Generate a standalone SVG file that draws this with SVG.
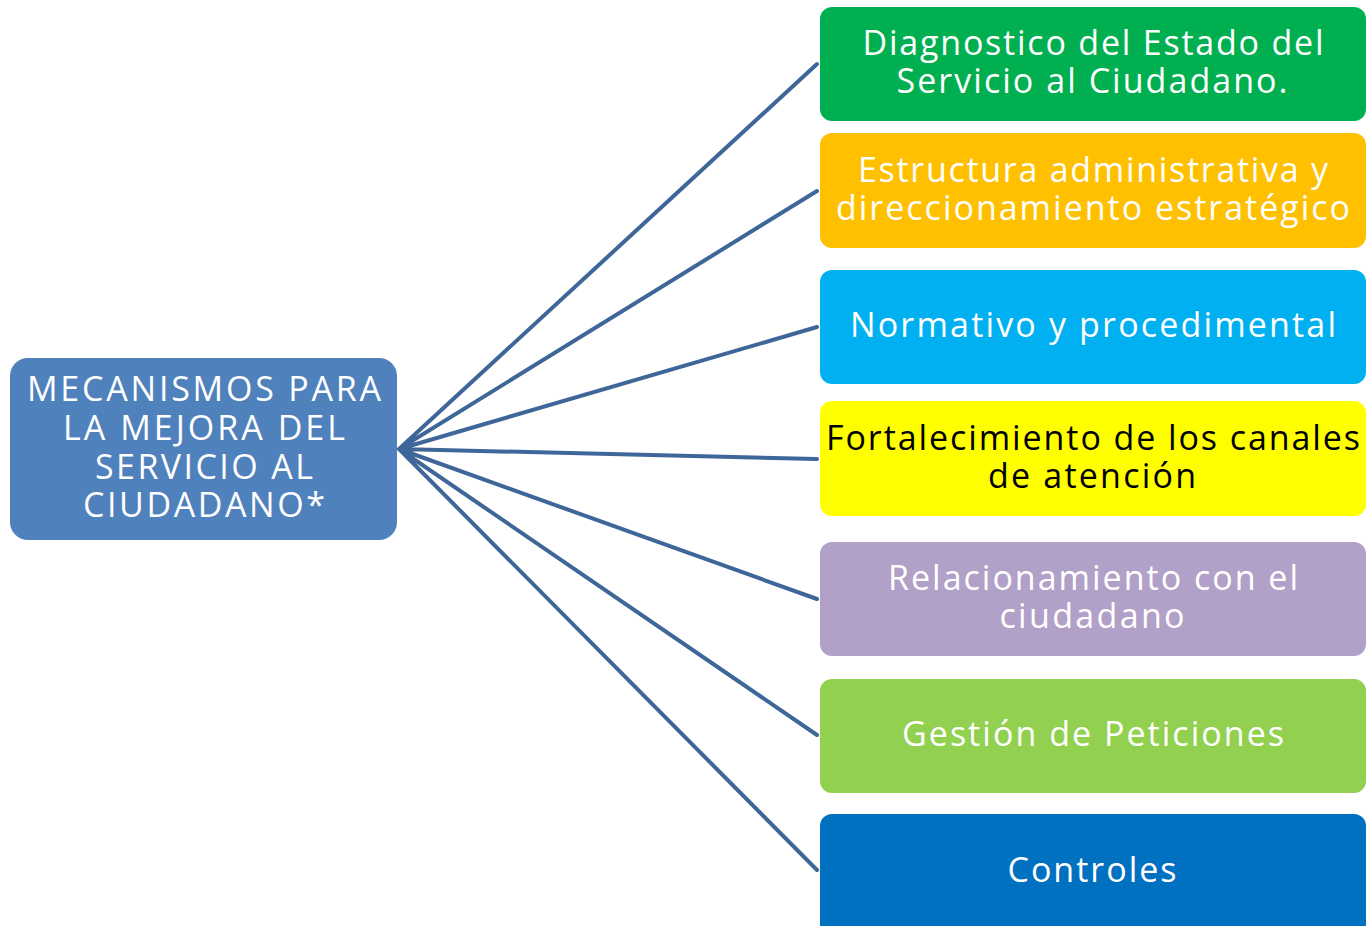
<svg xmlns="http://www.w3.org/2000/svg" width="1366" height="926" viewBox="0 0 1366 926">
<style>
.t{font-family:"Open Sans","Noto Sans","Liberation Sans",sans-serif;font-size:34px;fill:#fff;text-anchor:middle}
.k{fill:#000}
.c{stroke:#3F6698;stroke-width:4;fill:none;stroke-linecap:round}
</style>
<rect width="1366" height="926" fill="#fff"/>
<g id="connectors">
<path class="c" d="M399 449L817 64M399 449L817 191M399 449L817 327M399 449L817 459M399 449L817 599M399 449L817 735M399 449L817 870"/>
</g>
<g id="root">
<rect x="10" y="358" width="387" height="182" rx="18" fill="#4F81BD"/>
<text class="t" x="204" y="401" textLength="354">MECANISMOS PARA</text>
<text class="t" x="204" y="440" textLength="282">LA MEJORA DEL</text>
<text class="t" x="204" y="479" textLength="218">SERVICIO AL</text>
<text class="t" x="204" y="517" textLength="242">CIUDADANO*</text>
</g>
<g id="n1">
<rect x="820" y="7" width="546" height="114" rx="12" fill="#00B050"/>
<text class="t" x="1093" y="55" textLength="461">Diagnostico del Estado del</text>
<text class="t" x="1092" y="93" textLength="391">Servicio al Ciudadano.</text>
</g>
<g id="n2">
<rect x="820" y="133" width="546" height="115" rx="12" fill="#FFC000"/>
<text class="t" x="1093" y="182" textLength="470">Estructura administrativa y</text>
<text class="t" x="1093" y="220" textLength="514">direccionamiento estratégico</text>
</g>
<g id="n3">
<rect x="820" y="270" width="546" height="114" rx="12" fill="#00B0F0"/>
<text class="t" x="1093" y="337" textLength="486">Normativo y procedimental</text>
</g>
<g id="n4">
<rect x="820" y="401" width="546" height="115" rx="12" fill="#FFFF00"/>
<text class="t k" x="1093" y="450" textLength="534">Fortalecimiento de los canales</text>
<text class="t k" x="1092" y="488" textLength="208">de atención</text>
</g>
<g id="n5">
<rect x="820" y="542" width="546" height="114" rx="12" fill="#B1A0C7"/>
<text class="t" x="1093" y="590" textLength="410">Relacionamiento con el</text>
<text class="t" x="1092" y="628" textLength="185">ciudadano</text>
</g>
<g id="n6">
<rect x="820" y="679" width="546" height="114" rx="12" fill="#92D050"/>
<text class="t" x="1093" y="746" textLength="382">Gestión de Peticiones</text>
</g>
<g id="n7">
<rect x="820" y="814" width="546" height="130" rx="12" fill="#0070C0"/>
<text class="t" x="1092" y="882" textLength="169">Controles</text>
</g>
</svg>
